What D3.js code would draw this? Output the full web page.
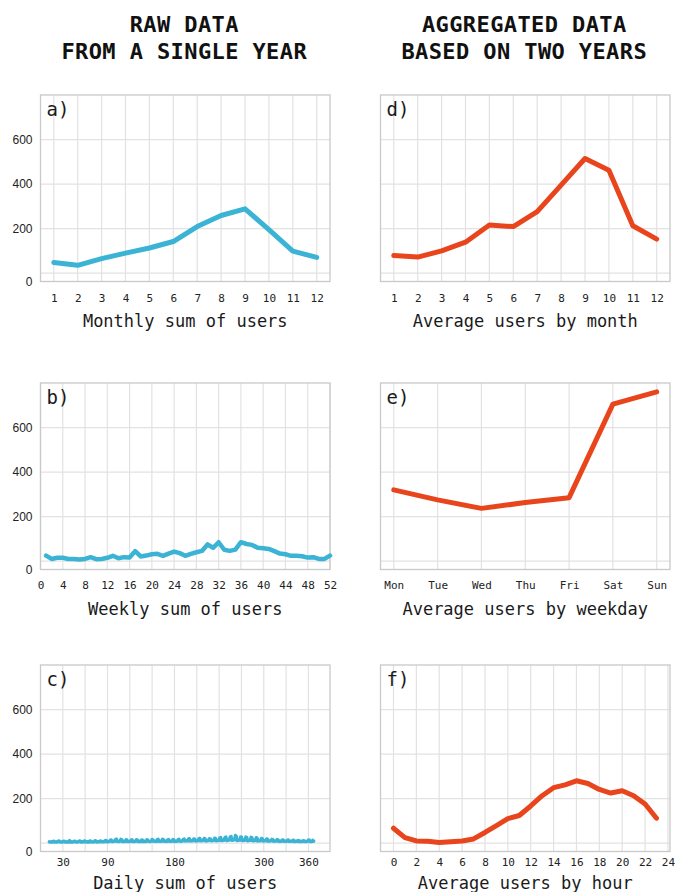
<!DOCTYPE html>
<html>
<head>
<meta charset="utf-8">
<script src="https://cdn.jsdelivr.net/npm/d3@7"></script>
<style>
  body { margin: 0; background: #fff; }
</style>
</head>
<body>
<div id="chart"></div>
<script>
// ========== Data ==========
const colTitles = [["RAW DATA", "FROM A SINGLE YEAR"], ["AGGREGATED DATA", "BASED ON TWO YEARS"]];

const months = [1, 2, 3, 4, 5, 6, 7, 8, 9, 10, 11, 12];
const monthlySum = [48, 35, 65, 90, 113, 142, 209, 259, 289, 195, 99, 71];

const weeklySum = [25, 10, 15, 15, 10, 10, 7, 10, 18, 9, 10, 15, 24, 13, 18, 16, 45, 21, 25, 31,
  33, 24, 34, 43, 36, 24, 33, 40, 46, 75, 60, 85, 51, 46, 52, 85, 77, 73, 60, 58,
  55, 45, 34, 31, 24, 24, 22, 16, 18, 10, 10, 25];

const firstDay = 12;
const dailySum = [
  6, 5, 5, 6, 5, 8, 9,   5, 5, 6, 5, 6, 9, 10,   6, 5, 5, 5, 6, 8, 8,   5, 6, 5, 6, 5, 9, 11,
  5, 5, 6, 5, 5, 8, 9,   6, 5, 5, 6, 6, 9, 10,   5, 6, 6, 5, 6, 10, 9,  6, 5, 6, 6, 5, 9, 10,
  6, 6, 5, 6, 6, 10, 11, 6, 5, 6, 6, 6, 9, 10,   6, 6, 6, 7, 6, 11, 12, 7, 6, 7, 7, 8, 13, 14,
  7, 7, 8, 8, 9, 16, 18, 8, 8, 7, 8, 9, 17, 16,  7, 7, 8, 7, 8, 15, 14,  7, 7, 7, 8, 8, 14, 15,
  7, 8, 7, 8, 8, 15, 14, 7, 7, 8, 8, 7, 14, 13,  7, 8, 8, 7, 8, 15, 14,  8, 8, 7, 8, 9, 16, 15,
  8, 8, 8, 9, 8, 16, 17, 8, 8, 9, 8, 9, 17, 16,  8, 8, 8, 9, 8, 15, 16,  8, 8, 9, 8, 9, 16, 15,
  8, 9, 9, 8, 9, 16, 17, 9, 9, 9, 10, 10, 17, 18, 10, 10, 11, 10, 11, 19, 20, 10, 11, 10, 11, 11, 19, 18,
  10, 10, 11, 11, 12, 20, 21, 11, 11, 12, 12, 12, 21, 20, 10, 11, 11, 12, 12, 20, 19, 11, 11, 12, 12, 13, 22, 21,
  11, 12, 12, 13, 13, 24, 25, 12, 12, 13, 13, 14, 26, 27, 12, 13, 13, 14, 15, 28, 30, 13, 14, 14, 15, 16, 34, 30,
  12, 13, 13, 14, 14, 28, 27, 12, 12, 13, 13, 14, 27, 26, 11, 12, 12, 13, 13, 26, 25, 11, 11, 12, 12, 12, 24, 22,
  10, 11, 11, 11, 12, 21, 20, 10, 10, 11, 11, 11, 19, 18, 9, 10, 10, 10, 11, 17, 16, 9, 9, 10, 10, 10, 16, 15,
  8, 9, 9, 9, 9, 14, 14, 8, 8, 9, 9, 9, 13, 14,  8, 8, 8, 8, 9, 12, 13,  7, 8, 8, 8, 8, 12, 11,
  7, 7, 8, 7, 8, 11, 11, 7, 7, 7, 8, 8, 13, 14,  7, 7, 7, 8, 12, 9
];

const monthAvg = [79, 72, 100, 139, 216, 209, 276, 395, 515, 462, 213, 153];

const weekdays = ["Mon", "Tue", "Wed", "Thu", "Fri", "Sat", "Sun"];
const weekdayAvg = [320, 275, 237, 263, 285, 705, 760];

const hours = d3.range(24);
const hourAvg = [67, 25, 10, 9, 3, 6, 10, 19, 48, 79, 110, 124, 167, 213, 249, 262, 280, 268, 241, 225, 235, 213, 176, 112];

const yTicks = [0, 200, 400, 600];

// ========== Layout ==========
const w = 675, h = 892;
const colX = [40.5, 380.5];
const rowY = [95, 383, 665];
const panelW = 289.5, panelH = 186.5;
const tickDy = [16.5, 15.5, 11];     // centre of tick labels below the frame
const titleDy = [40, 39.5, 32];      // centre of x title below the frame

const blue = "#3bb3d5", red = "#e8451d";
const mono = "'DejaVu Sans Mono', monospace";
const sans = "'Liberation Sans', Arial, sans-serif";

const svg = d3.select("#chart").append("svg")
  .attr("width", w)
  .attr("height", h)
  .style("background", "#fff");

// Column headers
colTitles.forEach((lines, i) => {
  svg.append("text")
    .attr("x", colX[i] + panelW / 2 - 1)
    .attr("text-anchor", "middle")
    .style("font-family", mono)
    .style("font-weight", "bold")
    .style("font-size", "22px")
    .style("letter-spacing", "0.4px")
    .attr("fill", "#111")
    .selectAll("tspan")
    .data(lines)
    .join("tspan")
      .attr("x", colX[i] + panelW / 2 - 1)
      .attr("y", (d, j) => 32 + j * 27)
      .text(d => d);
});

const panels = [
  { label: "a)", col: 0, row: 0, xs: months, ys: monthlySum, xDomain: [0.444, 12.556],
    grid: months, ticks: months, color: blue, width: 5, title: "Monthly sum of users", yLabels: true },
  { label: "b)", col: 0, row: 1, xs: d3.range(1, 53), ys: weeklySum, xDomain: [0, 52],
    grid: d3.range(0, 53, 4), ticks: d3.range(0, 53, 4), color: blue, width: 4.5, title: "Weekly sum of users", yLabels: true },
  { label: "c)", col: 0, row: 2, xs: dailySum.map((d, i) => firstDay + i), ys: dailySum, xDomain: [0, 389],
    grid: d3.range(30, 361, 30), ticks: [30, 90, 180, 300, 360], color: blue, width: 3.5, title: "Daily sum of users", yLabels: true },
  { label: "d)", col: 1, row: 0, xs: months, ys: monthAvg, xDomain: [0.444, 12.556],
    grid: months, ticks: months, color: red, width: 5, title: "Average users by month" },
  { label: "e)", col: 1, row: 1, xs: d3.range(7), ys: weekdayAvg, xDomain: [-0.303, 6.303],
    grid: d3.range(7), ticks: d3.range(7), fmt: i => weekdays[i], color: red, width: 5, title: "Average users by weekday" },
  { label: "f)", col: 1, row: 2, xs: hours, ys: hourAvg, xDomain: [-1.136, 24.18],
    grid: d3.range(0, 25, 2), ticks: d3.range(0, 25, 2), color: red, width: 5, title: "Average users by hour" }
];

const y = d3.scaleLinear().domain([-37.5, 800]).range([panelH, 0]);

panels.forEach(drawPanel);

// ===================== PANEL =====================
function drawPanel(p) {
  const g = svg.append("g")
    .attr("transform", `translate(${colX[p.col]},${rowY[p.row]})`);

  const x = d3.scaleLinear().domain(p.xDomain).range([0, panelW]);

  // Grid lines
  g.append("g").selectAll("line")
    .data(p.grid)
    .join("line")
      .attr("x1", d => x(d)).attr("x2", d => x(d))
      .attr("y1", 0).attr("y2", panelH)
      .attr("stroke", "#e2e2e2").attr("stroke-width", 1.2);

  g.append("g").selectAll("line")
    .data(yTicks)
    .join("line")
      .attr("x1", 0).attr("x2", panelW)
      .attr("y1", d => y(d)).attr("y2", d => y(d))
      .attr("stroke", "#e2e2e2").attr("stroke-width", 1.2);

  // Frame
  g.append("rect")
    .attr("width", panelW).attr("height", panelH)
    .attr("fill", "none")
    .attr("stroke", "#c9c9c9").attr("stroke-width", 1.3);

  // Line
  const pts = p.ys.map((v, i) => [p.xs[i], v]);
  g.append("path")
    .datum(pts)
    .attr("fill", "none")
    .attr("stroke", p.color)
    .attr("stroke-width", p.width)
    .attr("stroke-linejoin", "round")
    .attr("stroke-linecap", "round")
    .attr("d", d3.line().x(d => x(d[0])).y(d => y(d[1])));

  // Panel letter
  g.append("text")
    .attr("x", 6).attr("y", 20.5)
    .style("font-family", mono).style("font-size", "19px")
    .attr("fill", "#1a1a1a")
    .text(p.label);

  // X tick labels
  const xAxis = g.append("g")
    .attr("transform", `translate(0,${panelH})`)
    .call(d3.axisBottom(x)
      .tickValues(p.ticks)
      .tickFormat(p.fmt || (d => d))
      .tickSize(0)
      .tickPadding(tickDy[p.row] - 3.9));
  xAxis.select(".domain").remove();
  xAxis.selectAll("text")
    .style("font-family", mono).style("font-size", "11px")
    .attr("fill", "#222");

  // Y tick labels (left column only)
  if (p.yLabels) {
    const yAxis = g.append("g")
      .call(d3.axisLeft(y).tickValues(yTicks).tickSize(0).tickPadding(8));
    yAxis.select(".domain").remove();
    yAxis.selectAll("text")
      .style("font-family", sans).style("font-size", "12px")
      .attr("fill", "#222")
      .attr("dy", d => d === 0 ? "1em" : "0.32em");
  }

  // X title
  g.append("text")
    .attr("x", panelW / 2)
    .attr("y", panelH + titleDy[p.row])
    .attr("dy", "0.35em")
    .attr("text-anchor", "middle")
    .style("font-family", mono).style("font-size", "17px")
    .attr("fill", "#1a1a1a")
    .text(p.title);
}
</script>
</body>
</html>
